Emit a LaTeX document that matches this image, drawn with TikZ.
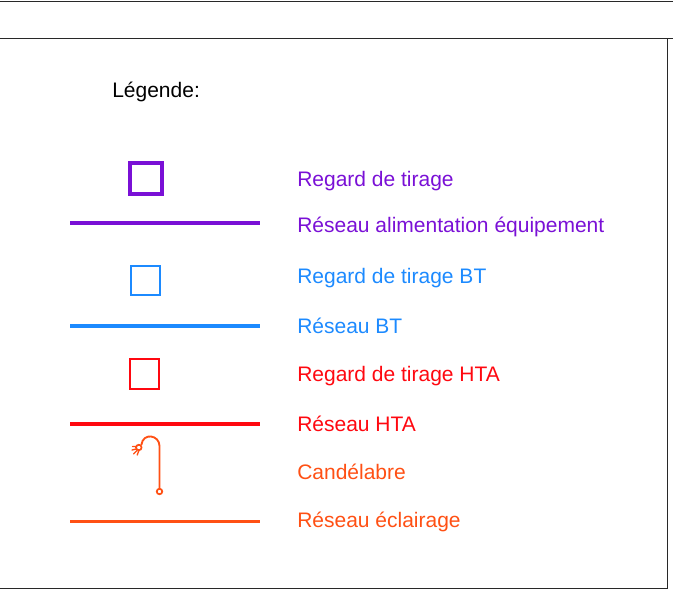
\documentclass[tikz,border=0pt]{standalone}
\usepackage{fontspec}
\setmainfont{Liberation Sans}
\definecolor{lgpurple}{RGB}{122,16,214}
\definecolor{lgblue}{RGB}{28,138,255}
\definecolor{lgred}{RGB}{255,8,16}
\definecolor{lgorange}{RGB}{255,80,20}
\definecolor{framegray}{RGB}{40,40,40}
\tikzset{
  label/.style={anchor=base west,inner sep=0pt,font=\fontsize{15.75pt}{18pt}\selectfont},
  frameline/.style={draw=framegray,line width=1.2pt},
  netline/.style={line width=3.2pt,line cap=butt},
  regard/.style={draw,minimum size=#1,inner sep=0pt,outer sep=0pt},
}
\begin{document}
\begin{tikzpicture}[x=0.75pt,y=-0.75pt]
\useasboundingbox (0,0) rectangle (673,603);
% frame
\coordinate (tl) at (0,1.5);
\coordinate (tr) at (673,1.5);
\coordinate (ml) at (0,38.5);
\coordinate (mr) at (673,38.5);
\coordinate (br) at (667.5,588.5);
\coordinate (bl) at (0,588.5);
\coordinate (rt) at (667.5,38.5);
\draw[frameline] (tl) -- (tr);
\draw[frameline] (ml) -- (mr);
\draw[frameline] (rt) -- (br) -- (bl);
% title
\node[label] (title) at (112,97) {Légende:};
% purple
\node[regard=31.5*0.75pt,draw=lgpurple,line width=3pt] (rgp) at (146.2,178.7) {};
\coordinate (lp1) at (70,223.3);
\coordinate (lp2) at (260,223.3);
\draw[netline,lgpurple] (lp1) -- (lp2);
\node[label,text=lgpurple] (trgp) at (297,186.5) {Regard de tirage};
\node[label,text=lgpurple] (tlp) at (297,232.5) {Réseau alimentation équipement};
% blue
\node[regard=29.5*0.75pt,draw=lgblue,line width=1.5pt] (rgb) at (145.5,280.5) {};
\coordinate (lb1) at (70,326.3);
\coordinate (lb2) at (260,326.3);
\draw[netline,lgblue] (lb1) -- (lb2);
\node[label,text=lgblue] (trgb) at (297,283.5) {Regard de tirage BT};
\node[label,text=lgblue] (tlb) at (297,333) {Réseau BT};
% red
\node[regard=29.5*0.75pt,draw=lgred,line width=1.5pt] (rgr) at (144.5,373.8) {};
\coordinate (lr1) at (70,424.3);
\coordinate (lr2) at (260,424.3);
\draw[netline,lgred] (lr1) -- (lr2);
\node[label,text=lgred] (trgr) at (297,381.5) {Regard de tirage HTA};
\node[label,text=lgred] (tlr) at (297,431) {Réseau HTA};
% candelabre
\node[circle,draw=lgorange,line width=1.3pt,minimum size=5.5*0.75pt,inner sep=0pt] (base) at (159.5,491.5) {};
\node[circle,draw=lgorange,line width=1.3pt,minimum size=5.5*0.75pt,inner sep=0pt] (lamp) at (138.8,447.5) {};
\coordinate (postTop) at (159.5,446);
\draw[lgorange,line width=1.4pt] (base.north) -- (postTop) .. controls (159.5,435) and (143,432) .. (lamp.north east);
\coordinate (ray1a) at (136.2,449);
\coordinate (ray1b) at (132,450);
\coordinate (ray2a) at (137,450.5);
\coordinate (ray2b) at (133.5,454);
\coordinate (ray3a) at (138.8,450.8);
\coordinate (ray3b) at (137.2,455);
\coordinate (ray4a) at (136.2,446.5);
\coordinate (ray4b) at (132.5,446.5);
\draw[lgorange,line width=1pt,line cap=round] (ray1a) -- (ray1b) (ray2a) -- (ray2b) (ray3a) -- (ray3b) (ray4a) -- (ray4b);
\node[label,text=lgorange] (tcand) at (297,479) {Candélabre};
\coordinate (lo1) at (70,521.5);
\coordinate (lo2) at (260,521.5);
\draw[netline,lgorange,line width=2.8pt] (lo1) -- (lo2);
\node[label,text=lgorange] (tlo) at (297,527) {Réseau éclairage};
\end{tikzpicture}
\end{document}
